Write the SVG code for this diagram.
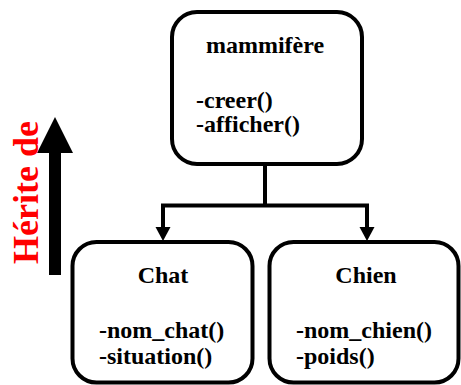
<svg xmlns="http://www.w3.org/2000/svg" width="461" height="385" viewBox="0 0 461 385">
<style>
.box{fill:#fff;stroke:#000;stroke-width:4}
.conn{fill:none;stroke:#000;stroke-width:4}
</style>
<rect width="461" height="385" fill="#fff"/>
<g id="inherit-arrow">
<rect x="49" y="150" width="12" height="125" fill="#000"/>
<polygon points="55,117 37,153 73,153" fill="#000"/>
<text transform="translate(38,264) rotate(-90)" font-family="Liberation Serif,'Times New Roman',serif" font-weight="bold" font-size="36" fill="#ff0000">Hérite de</text>
</g>
<g id="connectors">
<path class="conn" d="M265,165 V205.5 M161,205.5 H369"/>
<path class="conn" d="M163,204 V229"/>
<path class="conn" d="M367,204 V229"/>
<polygon points="155.5,227 170.5,227 163,241" fill="#000"/>
<polygon points="359.5,227 374.5,227 367,241" fill="#000"/>
</g>
<g id="mammifere">
<rect class="box" x="172" y="12" width="190" height="152" rx="25"/>
<text x="265" y="53" text-anchor="middle" font-family="Liberation Serif,'Times New Roman',serif" font-weight="bold" font-size="24" fill="#000">mammifère</text>
<text x="196" y="108" font-family="Liberation Serif,'Times New Roman',serif" font-weight="bold" font-size="24" fill="#000">-creer()</text>
<text x="196" y="132" font-family="Liberation Serif,'Times New Roman',serif" font-weight="bold" font-size="24" fill="#000">-afficher()</text>
</g>
<g id="chat">
<rect class="box" x="72.5" y="242" width="180" height="140.5" rx="24"/>
<text x="163" y="283" text-anchor="middle" font-family="Liberation Serif,'Times New Roman',serif" font-weight="bold" font-size="24" fill="#000">Chat</text>
<text x="99" y="338" font-family="Liberation Serif,'Times New Roman',serif" font-weight="bold" font-size="24" fill="#000">-nom_chat()</text>
<text x="99" y="364" font-family="Liberation Serif,'Times New Roman',serif" font-weight="bold" font-size="24" fill="#000">-situation()</text>
</g>
<g id="chien">
<rect class="box" x="269.5" y="242" width="189" height="140.5" rx="24"/>
<text x="366" y="283" text-anchor="middle" font-family="Liberation Serif,'Times New Roman',serif" font-weight="bold" font-size="24" fill="#000">Chien</text>
<text x="296" y="338" font-family="Liberation Serif,'Times New Roman',serif" font-weight="bold" font-size="24" fill="#000">-nom_chien()</text>
<text x="296" y="364" font-family="Liberation Serif,'Times New Roman',serif" font-weight="bold" font-size="24" fill="#000">-poids()</text>
</g>
</svg>
